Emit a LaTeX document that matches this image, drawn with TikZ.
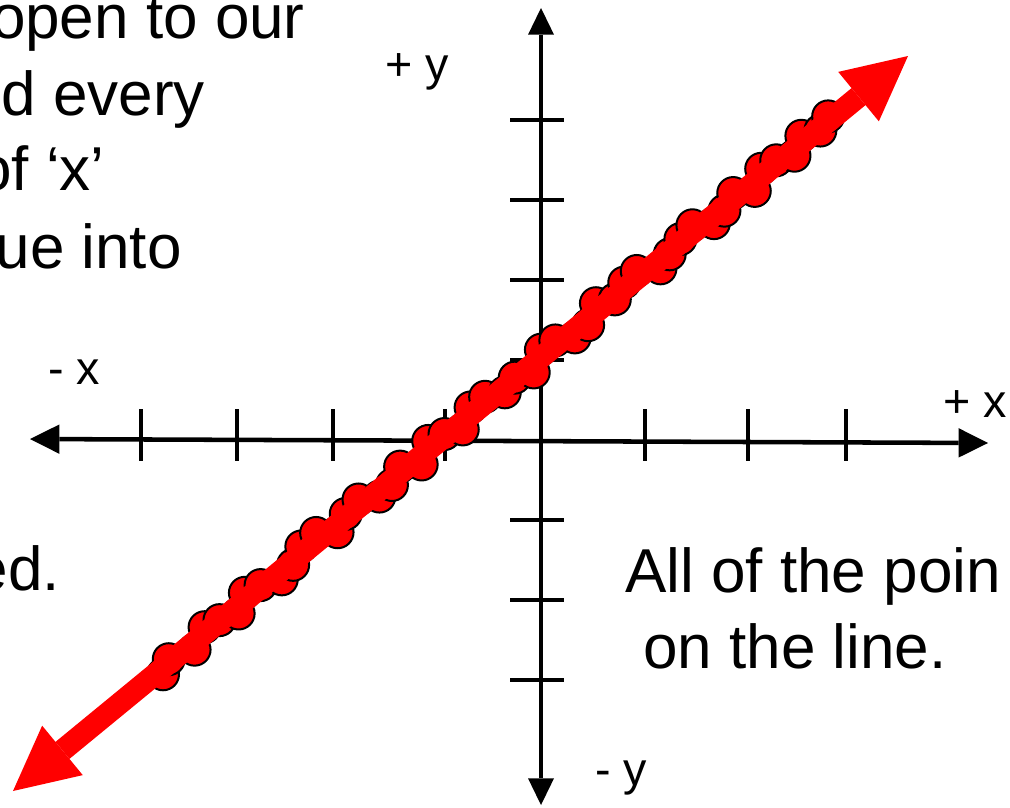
\documentclass[tikz,border=0pt]{standalone}
\usepackage{fontspec}
\setmainfont{Liberation Sans}
\usetikzlibrary{arrows.meta,calc}
\begin{document}
\begin{tikzpicture}[x=0.75pt,y=-0.75pt,
  xaxis/.style={line width=3.4pt,black,{Triangle[length=22pt,width=22pt,line width=0pt]}-{Triangle[length=22pt,width=22pt,line width=0pt]}},
  yaxis/.style={line width=2.3pt,black,{Triangle[length=20pt,width=19.5pt,line width=0pt]}-{Triangle[length=20pt,width=19.5pt,line width=0pt]}},
  tick/.style={line width=2.4pt,black},
  dot/.style={fill=red,draw=black,line width=1.5pt},
  redline/.style={line width=16.5pt,red,{Triangle[length=48pt,width=48pt,line width=0pt]}-{Triangle[length=48pt,width=48pt,line width=0pt]}},
  bigtext/.style={font=\fontsize{46.5}{56}\selectfont,inner sep=0pt},
  smalltext/.style={font=\fontsize{35}{42}\selectfont,inner sep=0pt}]
\useasboundingbox (0,0) rectangle (1010,807);
\clip (0,0) rectangle (1010,807);
% axes
\coordinate (xl) at (30,439);
\coordinate (xr) at (988,443);
\coordinate (yt) at (541,8);
\coordinate (yb) at (541,805);
\draw[xaxis] (xl) -- (xr);
\draw[yaxis] (yt) -- (yb);
\foreach \tx in {141,237,333,445,645,748,846}
  \draw[tick] (\tx,409) -- (\tx,461);
\foreach \ty in {120,200,280,360,520,600,680}
  \draw[tick] (510,\ty) -- (564,\ty);
% red line with dots
\coordinate (A) at (13,791);
\coordinate (B) at (908,56);
\foreach \s/\o in {190/5,204/-3,230/6,252/-5,268/-1,287/6,305/-6,322/-2,342/7,360/3,378/-6,398/-7,415/6,433/-3,452/-6,470/5,487/4,505/-5,523/7,543/-7,560/-2,577/6,597/-6,615/-5,633/4,650/-1,668/7,688/-6,705/-4,722/6,740/5,760/-7,777/2,795/-5,812/-6,832/7,848/2,866/-3,884/-6,902/6,918/3,936/-5,954/7,973/-6,990/-3,1007/5,1025/-6,1043/2,1058/-4}
  \filldraw[dot] ($(A)!{\s/1158}!(B) + ({\o*0.6347},{\o*0.7729})$) circle[radius=16];
\draw[redline] (A) -- (B);
% texts
\node[bigtext,anchor=base east] (t1) at (305,38) {open to our};
\node[bigtext,anchor=base east] (t2) at (205,115) {d every};
\node[bigtext,anchor=base east] (t3) at (105,190) {of ‘x’};
\node[bigtext,anchor=base east] (t4) at (182,268) {ue into};
\node[bigtext,anchor=base east] (t5) at (60,590) {ed.};
\node[bigtext,anchor=base west] (t6) at (625,592) {All of the poin};
\node[bigtext,anchor=base west] (t7) at (643,668) {on the line.};
\node[smalltext,anchor=base west] (lmx) at (48,384) {- x};
\node[smalltext,anchor=base west] (lpy) at (385,80) {+ y};
\node[smalltext,anchor=base west] (lpx) at (943,417) {+ x};
\node[smalltext,anchor=base west] (lmy) at (595,785) {- y};
\end{tikzpicture}
\end{document}
